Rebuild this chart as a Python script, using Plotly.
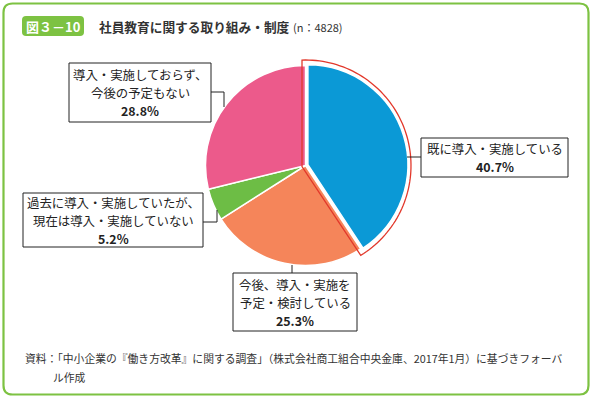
import numpy as np
import plotly.graph_objects as go

# ---------------- data ----------------
categories = [
    "既に導入・実施している",
    "今後、導入・実施を予定・検討している",
    "過去に導入・実施していたが、現在は導入・実施していない",
    "導入・実施しておらず、今後の予定もない",
]
label_lines = [
    ["既に導入・実施している"],
    ["今後、導入・実施を", "予定・検討している"],
    ["過去に導入・実施していたが、", "現在は導入・実施していない"],
    ["導入・実施しておらず、", "今後の予定もない"],
]
shares = [40.7, 25.3, 5.2, 28.8]
colors = ["#0b99d6", "#f5855a", "#6dbd45", "#ec5a8b"]

badge_text = "図３－10"
title_text = "社員教育に関する取り組み・制度"
n_text = "(n：4828)"
source_lines = [
    "資料：「中小企業の『働き方改革』に関する調査」（株式会社商工組合中央金庫、2017年1月）に基づきフォーバ",
    "ル作成",
]

# ---------------- layout constants (pixels) ----------------
W, H = 592, 399
FONT = "Noto Sans CJK JP"
GREEN = "#7dc242"
RED = "#e2382b"
cx, cy, R = 305.5, 165.5, 100.0
pull = 0.025
Rd = R * (1 + pull)

fig = go.Figure()

fig.add_trace(go.Pie(
    values=shares, labels=categories, sort=False, direction="clockwise",
    rotation=0, pull=[pull, 0, 0, 0], textinfo="none", hoverinfo="skip",
    showlegend=False,
    marker=dict(colors=colors, line=dict(color="white", width=1.5)),
    domain=dict(x=[(cx - Rd) / W, (cx + Rd) / W],
                y=[1 - (cy + Rd) / H, 1 - (cy - Rd) / H]),
))

shapes = []

def rounded_rect(x0, y0, x1, y1, r):
    return (f"M {x0+r},{y0} L {x1-r},{y0} Q {x1},{y0} {x1},{y0+r} "
            f"L {x1},{y1-r} Q {x1},{y1} {x1-r},{y1} L {x0+r},{y1} "
            f"Q {x0},{y1} {x0},{y1-r} L {x0},{y0+r} Q {x0},{y0} {x0+r},{y0} Z")

# outer frame
shapes.append(dict(type="path", xref="x", yref="y",
                   path=rounded_rect(3.5, 3.5, 588.5, 394.5, 9),
                   line=dict(color=GREEN, width=2.2), fillcolor="rgba(0,0,0,0)",
                   layer="below"))
# badge
shapes.append(dict(type="path", xref="x", yref="y",
                   path=rounded_rect(22, 16, 84, 36, 4),
                   line=dict(color=GREEN, width=0), fillcolor=GREEN))

# red outline of the first slice, computed from its share
theta2 = np.deg2rad(shares[0] / sum(shares) * 360)
d, Ra = 3.5, 105.5
u2 = np.array([np.sin(theta2), -np.cos(theta2)])
P = np.array([-d, d * (1 + np.cos(theta2)) / np.sin(theta2)])
p1 = np.array([-d, -np.sqrt(Ra**2 - d**2)])
b = P @ u2
t = -b + np.sqrt(b**2 - (P @ P - Ra**2))
p2 = P + t * u2
a1 = np.arctan2(p1[0], -p1[1])
a2 = np.arctan2(p2[0], -p2[1])
angs = np.linspace(a1, a2, 80)
arc = [(cx + Ra * np.sin(a), cy - Ra * np.cos(a)) for a in angs]
path = f"M {cx+P[0]:.2f},{cy+P[1]:.2f} " + " ".join(f"L {x:.2f},{y:.2f}" for x, y in arc) + " Z"
shapes.append(dict(type="path", xref="x", yref="y", path=path,
                   line=dict(color=RED, width=1.3), fillcolor="rgba(0,0,0,0)"))

# label boxes and connectors
boxes = [(421, 138, 568, 177), (233, 273, 357, 331), (23, 193, 203, 247), (69, 63, 211, 122)]
connectors = [
    [(407, 157), (421, 157)],
    [(292, 265), (292, 273)],
    [(203, 222), (217, 222), (217, 210)],
    [(211, 92), (224, 92), (224, 107)],
]
for (x0, y0, x1, y1) in boxes:
    shapes.append(dict(type="rect", xref="x", yref="y", x0=x0, y0=y0, x1=x1, y1=y1,
                       line=dict(color="#222", width=1), fillcolor="white"))
for pts in connectors:
    p = "M " + " L ".join(f"{x},{y}" for x, y in pts)
    shapes.append(dict(type="path", xref="x", yref="y", path=p,
                       line=dict(color="#222", width=1)))

annotations = []
def txt(x, y, s, size=12, bold=False, color="#222", xanchor="center"):
    annotations.append(dict(x=x, y=y, xref="x", yref="y", text=f"<b>{s}</b>" if bold else s,
                            showarrow=False, xanchor=xanchor, yanchor="middle", align="center",
                            font=dict(family=FONT, size=size, color=color)))

LSP = 18.0
LFS = 12.4
for i, (x0, y0, x1, y1) in enumerate(boxes):
    xc = (x0 + x1) / 2
    yc = (y0 + y1) / 2 + 0.5
    lines = label_lines[i] + [None]
    n = len(lines)
    for j, ln in enumerate(lines):
        y = yc + (j - (n - 1) / 2) * LSP
        if ln is None:
            txt(xc, y, f"{shares[i]:.1f}%", size=LFS, bold=True)
        else:
            txt(xc, y, ln, size=LFS)

txt(53, 26, badge_text, size=13, bold=True, color="white")
txt(97, 26, title_text, size=12.7, bold=True, color="#333", xanchor="left")
txt(291, 26.5, n_text, size=11, color="#333", xanchor="left")
txt(23, 358, source_lines[0], size=10.8, color="#333", xanchor="left")
txt(51, 377, source_lines[1], size=10.8, color="#333", xanchor="left")

fig.update_layout(
    width=W, height=H, margin=dict(l=0, r=0, t=0, b=0),
    paper_bgcolor="white", plot_bgcolor="rgba(0,0,0,0)",
    xaxis=dict(range=[0, W], visible=False, fixedrange=True),
    yaxis=dict(range=[H, 0], visible=False, fixedrange=True),
    shapes=shapes, annotations=annotations, showlegend=False,
)

fig.write_html("out.html", config={"displayModeBar": False},
               post_script="document.body.style.margin='0';document.body.style.overflow='hidden';")
